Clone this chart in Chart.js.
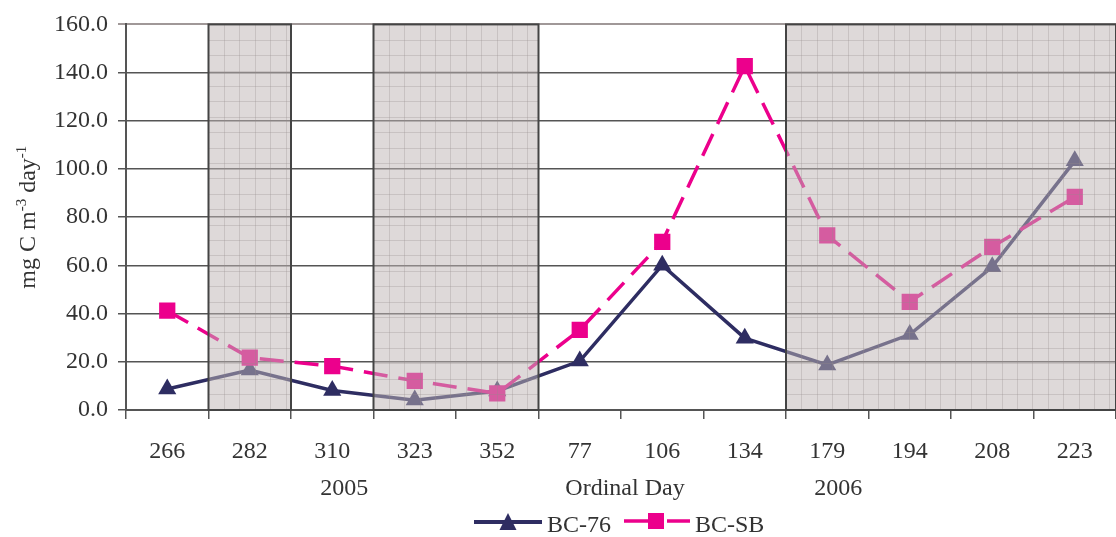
<!DOCTYPE html>
<html>
<head>
<meta charset="utf-8">
<script src="https://cdn.jsdelivr.net/npm/chart.js@4.4.1/dist/chart.umd.min.js"></script>
<style>
  html, body { margin: 0; padding: 0; background: #ffffff; overflow: hidden; }
  #wrap { width: 1116px; height: 537px; position: relative; overflow: hidden; }
  canvas { display: block; }
</style>
</head>
<body>
<div id="wrap"><canvas id="c" width="1116" height="537" style="width:1116px;height:537px;"></canvas></div>
<script>
const categories = ['266', '282', '310', '323', '352', '77', '106', '134', '179', '194', '208', '223'];
const bc76 = [8.7, 16.6, 8.1, 4.1, 7.9, 20.3, 60.1, 29.8, 18.7, 31.3, 59.4, 103.4];
const bcsb = [41.2, 21.7, 18.2, 12.1, 6.9, 33.2, 69.8, 142.7, 72.5, 44.9, 67.7, 88.4];
const seriesNames = ['BC-76', 'BC-SB'];
const yMin = 0, yMax = 160, yStep = 20;
const shadedRanges = [[1, 1], [3, 4], [8, 11]];   // category index ranges
const years = ['2005', '2006'];
const xTitle = 'Ordinal Day';
const yTitleParts = [['mg C m', false], ['-3', true], [' day', false], ['-1', true]];

const FONT = '"Liberation Serif", "Times New Roman", serif';
const NAVY = '#2e2d62';
const PINK = '#ec008c';
const TEXT = '#333333';

const overlayPlugin = {
  id: 'overlay',
  afterDatasetsDraw(chart) {
    const {ctx, chartArea, scales: {x}} = chart;
    const half = (x.getPixelForValue(1) - x.getPixelForValue(0)) / 2;
    const top = chartArea.top, bottom = chartArea.bottom;
    ctx.save();
    shadedRanges.forEach(([a, b]) => {
      const x0 = x.getPixelForValue(a) - half;
      const x1 = Math.min(x.getPixelForValue(b) + half, chartArea.right);
      ctx.fillStyle = 'rgba(190,180,180,0.51)';
      ctx.fillRect(x0, top, x1 - x0, bottom - top);
      // fine pattern grid
      ctx.beginPath();
      ctx.strokeStyle = 'rgba(150,140,140,0.3)';
      ctx.lineWidth = 1;
      const sp = 15.4;
      for (let xx = x0 + sp; xx < x1 - 2; xx += sp) {
        ctx.moveTo(Math.round(xx) + 0.5, top);
        ctx.lineTo(Math.round(xx) + 0.5, bottom);
      }
      for (let yy = top + sp; yy < bottom - 2; yy += sp) {
        ctx.moveTo(x0, Math.round(yy) + 0.5);
        ctx.lineTo(x1, Math.round(yy) + 0.5);
      }
      ctx.stroke();
      ctx.strokeStyle = '#444444';
      ctx.lineWidth = 2;
      ctx.strokeRect(x0, top, x1 - x0, bottom - top);
    });
    ctx.restore();
  },
  afterDraw(chart) {
    const {ctx, chartArea, scales: {x}} = chart;
    ctx.save();
    // year labels and axis title
    ctx.fillStyle = TEXT;
    ctx.font = '24px ' + FONT;
    ctx.textAlign = 'center';
    ctx.textBaseline = 'alphabetic';
    ctx.fillText(years[0], x.getPixelForValue(2) + 12, 495);
    ctx.fillText(years[1], x.getPixelForValue(8) + 11, 495);
    ctx.fillText(xTitle, 625, 495);

    // y axis title with superscripts
    const cy = (chartArea.top + chartArea.bottom) / 2;
    const parts = yTitleParts.map(([t, sup]) => {
      ctx.font = (sup ? '15px ' : '24px ') + FONT;
      return {t, sup, w: ctx.measureText(t).width};
    });
    const total = parts.reduce((s, p) => s + p.w, 0);
    ctx.translate(35, cy);
    ctx.rotate(-Math.PI / 2);
    ctx.textAlign = 'left';
    let px = -total / 2;
    parts.forEach(p => {
      ctx.font = (p.sup ? '15px ' : '24px ') + FONT;
      ctx.fillText(p.t, px, p.sup ? -9 : 0);
      px += p.w;
    });
    ctx.restore();

    // legend
    ctx.save();
    const ly = 522;
    ctx.lineWidth = 4;
    ctx.strokeStyle = NAVY;
    ctx.beginPath(); ctx.moveTo(474, ly); ctx.lineTo(542, ly); ctx.stroke();
    ctx.fillStyle = NAVY;
    ctx.beginPath();
    ctx.moveTo(508, ly - 9); ctx.lineTo(516.5, ly + 8); ctx.lineTo(499.5, ly + 8); ctx.closePath(); ctx.fill();
    ctx.strokeStyle = PINK;
    ctx.lineWidth = 3.5;
    ctx.beginPath(); ctx.moveTo(624, ly - 1); ctx.lineTo(648, ly - 1); ctx.moveTo(667, ly - 1); ctx.lineTo(690, ly - 1); ctx.stroke();
    ctx.fillStyle = PINK;
    ctx.fillRect(648, ly - 9, 16, 16);
    ctx.fillStyle = TEXT;
    ctx.font = '24px ' + FONT;
    ctx.textAlign = 'left';
    ctx.textBaseline = 'alphabetic';
    ctx.fillText(seriesNames[0], 547, 532);
    ctx.fillText(seriesNames[1], 695, 532);
    ctx.restore();
  }
};

new Chart(document.getElementById('c'), {
  type: 'line',
  data: {
    labels: categories,
    datasets: [
      {
        label: seriesNames[0],
        data: bc76,
        borderColor: NAVY,
        backgroundColor: NAVY,
        borderWidth: 3.5,
        pointStyle: 'triangle',
        pointRadius: 10.5,
        pointHoverRadius: 10.5,
        pointBorderWidth: 0,
        tension: 0,
        order: 1
      },
      {
        label: seriesNames[1],
        data: bcsb,
        borderColor: PINK,
        backgroundColor: PINK,
        borderWidth: 3.5,
        borderDash: [24, 11],
        pointStyle: 'rect',
        pointRadius: 11.5,
        pointHoverRadius: 11.5,
        pointBorderWidth: 0,
        tension: 0,
        order: 0
      }
    ]
  },
  options: {
    responsive: false,
    animation: false,
    events: [],
    layout: { autoPadding: false, padding: { top: 24, right: 0, bottom: 35, left: 0 } },
    plugins: {
      legend: { display: false },
      tooltip: { enabled: false },
      title: { display: false }
    },
    scales: {
      x: {
        type: 'category',
        offset: true,
        grid: {
          offset: true,
          drawOnChartArea: false,
          drawTicks: true,
          tickLength: 9,
          color: '#555555',
          lineWidth: 1.5
        },
        border: { display: true, color: '#555555', width: 2 },
        ticks: {
          color: TEXT,
          font: { family: FONT, size: 24 },
          padding: 18,
          maxRotation: 0,
          autoSkip: false
        },
        afterFit(scale) {
          scale.height = 92;
          scale.paddingLeft = 0;
          scale.paddingRight = 0;
        }
      },
      y: {
        min: yMin,
        max: yMax,
        grid: {
          color: (c) => (c.tick && c.tick.value === yMax) ? '#a09898' : '#555555',
          lineWidth: (c) => (c.tick && c.tick.value === yMax) ? 2 : 1.5,
          tickLength: 8,
          drawTicks: true
        },
        border: { display: true, color: '#555555', width: 2 },
        ticks: {
          stepSize: yStep,
          color: TEXT,
          font: { family: FONT, size: 24 },
          padding: 10,
          callback: (v) => Number(v).toFixed(1)
        },
        afterFit(scale) {
          scale.width = 126;
          scale.paddingLeft = 0;
          scale.paddingRight = 0;
        }
      }
    }
  },
  plugins: [overlayPlugin]
});
</script>
</body>
</html>
